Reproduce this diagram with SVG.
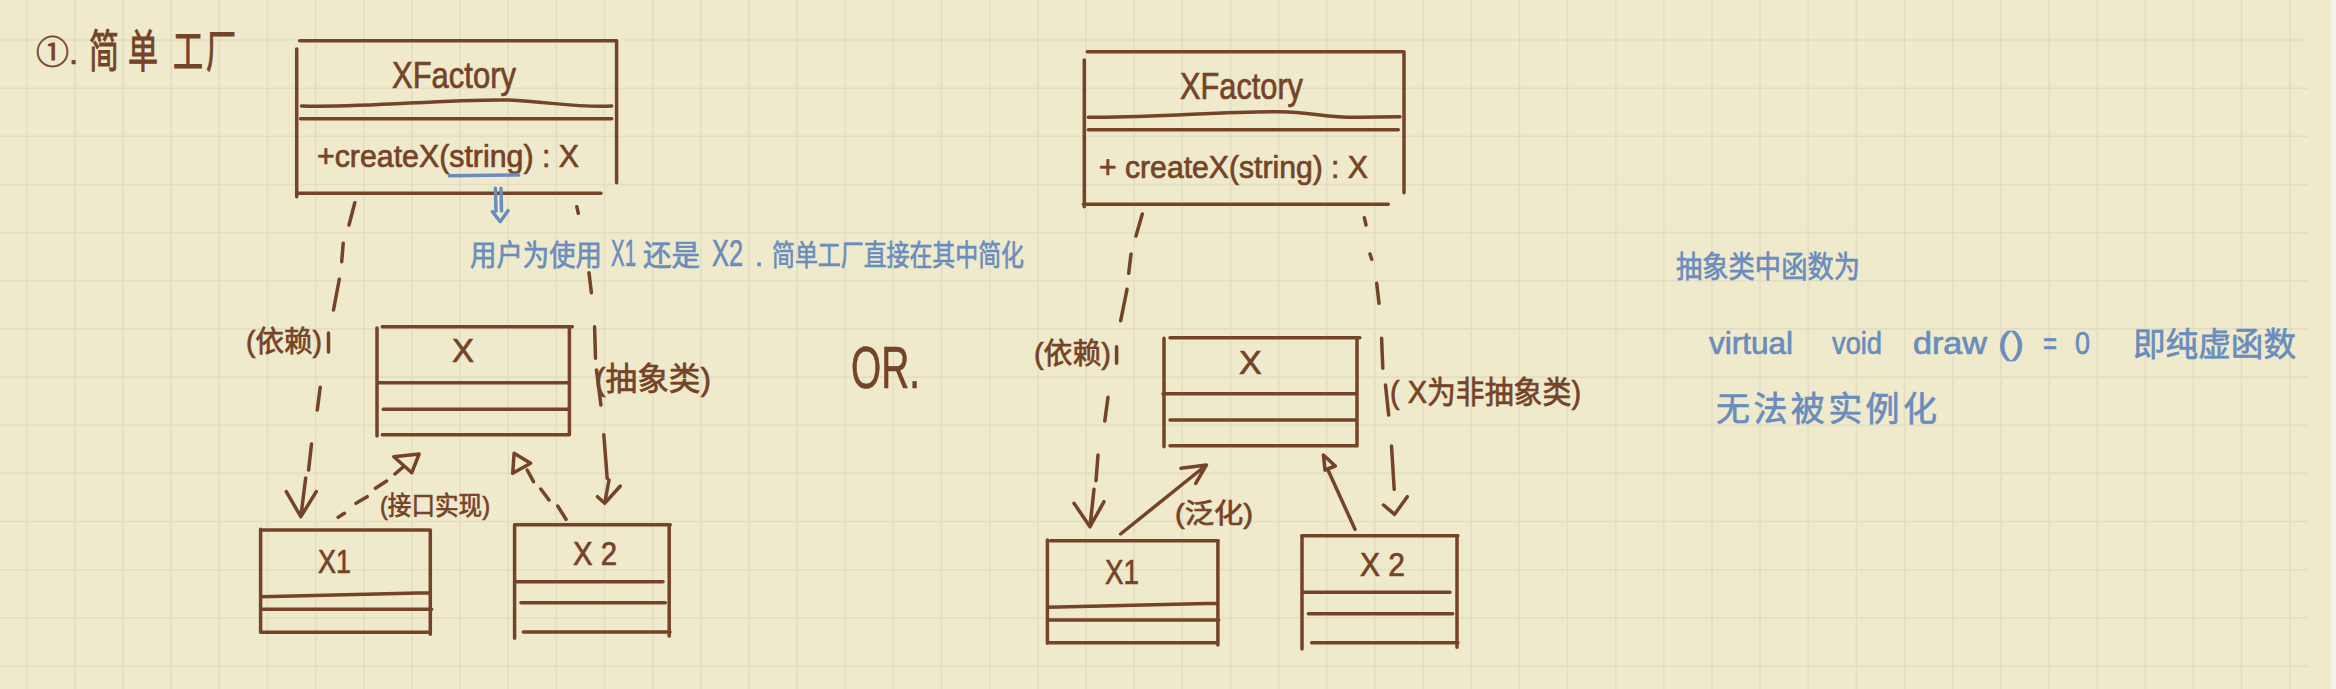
<svg xmlns="http://www.w3.org/2000/svg" width="2336" height="689" viewBox="0 0 2336 689">
<style>
.g{stroke:#E3DDC3;stroke-width:1.6;fill:none}
.s{stroke:#754327;stroke-width:3.5;fill:none;stroke-linecap:round;stroke-linejoin:round}
.n{stroke:#6A8DBE;stroke-width:3.5;fill:none;stroke-linecap:round;stroke-linejoin:round}
.br{fill:#754327;stroke:#754327;stroke-width:.7;font-family:"Liberation Sans","Noto Sans CJK SC",sans-serif}
.bl{fill:#6A8DBE;stroke:#6A8DBE;stroke-width:.7;font-family:"Liberation Sans","Noto Sans CJK SC",sans-serif}
</style>
<defs>
<path id="grid" class="g" d="M26.7 0V689M74.9 0V689M123 0V689M171.2 0V689M219.3 0V689M267.5 0V689M315.6 0V689M363.8 0V689M411.9 0V689M460.1 0V689M508.2 0V689M556.4 0V689M604.5 0V689M652.7 0V689M700.8 0V689M749 0V689M797.1 0V689M845.3 0V689M893.4 0V689M941.6 0V689M989.7 0V689M1037.9 0V689M1086 0V689M1134.2 0V689M1182.3 0V689M1230.5 0V689M1278.6 0V689M1326.8 0V689M1374.9 0V689M1423.1 0V689M1471.2 0V689M1519.4 0V689M1567.5 0V689M1615.7 0V689M1663.8 0V689M1712 0V689M1760.1 0V689M1808.3 0V689M1856.4 0V689M1904.6 0V689M1952.7 0V689M2000.9 0V689M2049 0V689M2097.2 0V689M2145.3 0V689M2193.5 0V689M2241.6 0V689M2290 0V689M0 40H2308M0 88.2H2308M0 136.3H2308M0 184.5H2308M0 232.6H2308M0 280.8H2308M0 328.9H2308M0 377.1H2308M0 425.2H2308M0 473.4H2308M0 521.5H2308M0 569.7H2308M0 617.8H2308M0 666H2308"/>
</defs>
<rect width="2336" height="689" fill="#EFEACB"/>
<rect x="2331" width="5" height="689" fill="#F5F4F0"/>
<use href="#grid"/>

<g id="title">
<text class="br" font-size="33" x="36" y="64">①.</text>
<text class="br" font-size="30" transform="translate(89,68) scale(1,1.5)" x="0 39 84 117" y="0">简单工厂</text>
</g>

<g id="left-factory">
<path class="s" d="M299.6 40.7H615.6M296.7 49V196.7M616.6 40.7V182.7M301.5 106C370 108 440 99 509 100C550 102 580 108 611.7 106M300.5 118.7H611.7M296.7 193.3H601"/>
<text class="br" font-size="36" x="392" y="88" textLength="124" lengthAdjust="spacingAndGlyphs">XFactory</text>
<text class="br" font-size="31" x="317" y="167" textLength="262" lengthAdjust="spacingAndGlyphs">+createX(string) : X</text>
<path class="n" d="M449.3 175.7L518.7 175"/>
</g>

<g id="left-x">
<path class="s" d="M382.3 326.7H572.3M377 328V436M569.4 326.7V434.7M377 382.7H569.4M383.2 409.3H567.4M382.3 434.7H569.4"/>
<text class="br" font-size="33" x="452" y="362">X</text>
</g>

<g id="left-x1">
<path class="s" d="M263 530H430.3M260.6 529.3V632.3M430.3 530V634.3M261.6 596.7L428.8 592.7M261.6 609.3H431.7M260.6 632.3H427.8"/>
<text class="br" font-size="34" x="318" y="573" textLength="33" lengthAdjust="spacingAndGlyphs">X1</text>
</g>

<g id="left-x2">
<path class="s" d="M515 524.7H670.2M514.6 524.7V638.3M669.2 524.7V636M515 581.7H663M520.9 602.7H665.3M523.3 632H670"/>
<text class="br" font-size="33" x="573" y="565" textLength="44" lengthAdjust="spacingAndGlyphs">X 2</text>
</g>

<g id="right-factory">
<path class="s" d="M1087.3 51.7H1403.3M1084.3 60V206.7M1404 51.7V192.7M1088.3 117.3C1160 118 1220 111 1280 111.7C1310 112 1330 118 1358 117.3L1400 116.7M1088.3 129.7H1398.3M1083.3 204.3H1388.3"/>
<text class="br" font-size="36" x="1180" y="99" textLength="123" lengthAdjust="spacingAndGlyphs">XFactory</text>
<text class="br" font-size="31" x="1099" y="178" textLength="269" lengthAdjust="spacingAndGlyphs">+ createX(string) : X</text>
</g>

<g id="right-x">
<path class="s" d="M1170 337.7H1359.8M1164 338.3V446.7M1357 337.7V446M1163 393.7H1357M1170 420H1354.7M1170 445.7H1357"/>
<text class="br" font-size="34" x="1239" y="374">X</text>
</g>

<g id="right-x1">
<path class="s" d="M1050.6 540.7H1218.3M1047.4 540V643.3M1217.9 540.7V645M1048.2 607.3L1217.5 603.3M1047.4 620H1218.7M1047.4 642.7H1217.5"/>
<text class="br" font-size="35" x="1105" y="584" textLength="34" lengthAdjust="spacingAndGlyphs">X1</text>
</g>

<g id="right-x2">
<path class="s" d="M1301.7 535.7H1457.9M1302 535.7V649M1457 535.7V647.3M1302.5 592.3H1450M1308.4 613.7H1452.7M1311.6 642.7H1457.9"/>
<text class="br" font-size="33" x="1360" y="576" textLength="45" lengthAdjust="spacingAndGlyphs">X 2</text>
</g>

<g id="connectors">
<path class="s" d="M354.8 202.7L349 225M343.2 243.3L341.7 261.7M339.3 279.3L333.5 310M328.5 333V352M320.2 387.3L317.3 410M311.5 444L308.6 470M305.7 478L300.8 516.7M286.3 491.7L300.8 516.7L316.3 491.7"/>
<path class="s" d="M576.8 206.7L578.3 213.3M589 272.7L591.4 292.7M594.6 326.7L595.5 358.3M596.5 370L600.9 405M603.8 434.7L607.2 478.3M597.5 496.7L604.7 503.3L620.3 486M609 480L604.7 503.3"/>
<path class="s" d="M338.2 517.3L344.4 513.3M356 503.3L367.2 496.7M375.5 488.3L386.6 481M394.9 474L403.6 466.7M393.9 456.7L419.1 454L411.8 472.7Z"/>
<path class="s" d="M566 519.3L557.7 506M549 500L540.8 489M533.5 481.7L527.2 470M514.1 453.3L530.6 463.3L512.7 473.3Z"/>
<path class="s" d="M1142.3 214L1136 236M1131 254L1128.7 273.3M1127 289.3L1120.7 320.7M1116.6 346.7V363.3M1108 397.3L1104.8 421M1098 455L1096 480.7M1094 489.3L1090 526.7M1074 503.3L1090 526.7L1104 501.7"/>
<path class="s" d="M1364.3 217.7L1366 225M1370 254L1371.7 259.3M1376.7 283.3L1379 303.3M1381.6 338.3L1382.8 368.3M1385.5 385L1388.7 415M1391.5 446L1394.2 489.3M1383.5 505L1394.6 514.3L1407.3 496.7"/>
<path class="s" d="M1120.6 534L1206.4 465M1181 468.3L1206.4 465L1195.7 483.3"/>
<path class="s" d="M1355 529.3L1328 470M1323.4 455L1335.3 466L1325 470Z"/>
<path class="n" d="M495.4 188.3L496 211M501 188.3L501.5 211M492.5 211.7L500.2 221.7L508 210.7"/>
</g>

<g id="labels">
<text class="br" font-size="29" x="246" y="352" textLength="76" lengthAdjust="spacingAndGlyphs">(依赖)</text>
<text class="br" font-size="32" x="595" y="390" textLength="116" lengthAdjust="spacingAndGlyphs">(抽象类)</text>
<text class="br" font-size="26" x="380" y="515" textLength="110" lengthAdjust="spacingAndGlyphs">(接口实现)</text>
<text class="br" font-size="60" x="851" y="388" textLength="69" lengthAdjust="spacingAndGlyphs">OR.</text>
<text class="br" font-size="29" x="1034" y="364" textLength="77" lengthAdjust="spacingAndGlyphs">(依赖)</text>
<text class="br" font-size="31" x="1390" y="403" textLength="191" lengthAdjust="spacingAndGlyphs">( X为非抽象类)</text>
<text class="br" font-size="27" x="1175" y="523" textLength="78" lengthAdjust="spacingAndGlyphs">(泛化)</text>
</g>

<g id="notes">
<text class="bl" font-size="29" y="266"><tspan x="470" textLength="132" lengthAdjust="spacingAndGlyphs">用户为使用</tspan><tspan x="611" font-size="36" textLength="25" lengthAdjust="spacingAndGlyphs">X1</tspan><tspan x="643" textLength="57" lengthAdjust="spacingAndGlyphs">还是</tspan><tspan x="712" font-size="36" textLength="31" lengthAdjust="spacingAndGlyphs">X2</tspan><tspan x="755">.</tspan><tspan x="772" textLength="252" lengthAdjust="spacingAndGlyphs">简单工厂直接在其中简化</tspan></text>
<text class="bl" font-size="30" x="1676" y="277" textLength="184" lengthAdjust="spacingAndGlyphs">抽象类中函数为</text>
<text class="bl" font-size="31" y="354"><tspan x="1709" textLength="84" lengthAdjust="spacingAndGlyphs">virtual</tspan><tspan x="1832" textLength="50" lengthAdjust="spacingAndGlyphs">void</tspan><tspan x="1913" textLength="74" lengthAdjust="spacingAndGlyphs">draw</tspan><tspan x="1998" textLength="26" lengthAdjust="spacingAndGlyphs">()</tspan><tspan x="2043" textLength="14" lengthAdjust="spacingAndGlyphs">=</tspan><tspan x="2075" textLength="15" lengthAdjust="spacingAndGlyphs">0</tspan></text>
<text class="bl" font-size="33" x="2133" y="356" textLength="163" lengthAdjust="spacingAndGlyphs">即纯虚函数</text>
<text class="bl" font-size="34" x="1716" y="421" textLength="221">无法被实例化</text>
</g>
</svg>
